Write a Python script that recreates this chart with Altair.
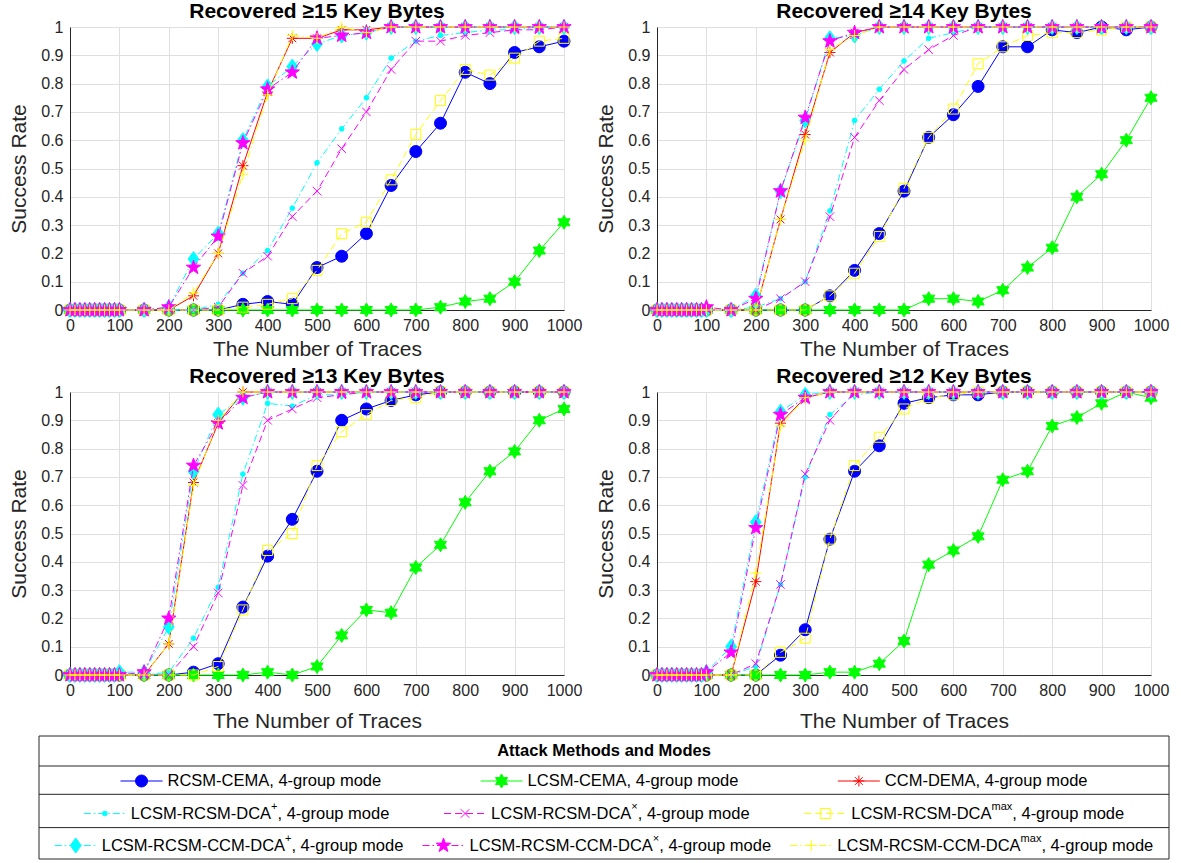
import math
import altair as alt
import pandas as pd

FONT = "Liberation Sans"

# ---------------- data ----------------
X_TRACES = [0, 10, 20, 30, 40, 50, 60, 70, 80, 90, 100, 150, 200, 250, 300, 350, 400, 450, 500,
            550, 600, 650, 700, 750, 800, 850, 900, 950, 1000]
X_TICKS = [0, 100, 200, 300, 400, 500, 600, 700, 800, 900, 1000]
Y_TICKS = [0, 0.1, 0.2, 0.3, 0.4, 0.5, 0.6, 0.7, 0.8, 0.9, 1]

SERIES_BASE = ["RCSM-CEMA", "LCSM-CEMA", "CCM-DEMA",
               "LCSM-RCSM-DCA", "LCSM-RCSM-DCA", "LCSM-RCSM-DCA",
               "LCSM-RCSM-CCM-DCA", "LCSM-RCSM-CCM-DCA", "LCSM-RCSM-CCM-DCA"]
SERIES_SUP = ["", "", "", "+", "×", "max", "+", "×", "max"]
SERIES_TAIL = ", 4-group mode"
PANEL_TITLES = ["Recovered ≥15 Key Bytes", "Recovered ≥14 Key Bytes",
                "Recovered ≥13 Key Bytes", "Recovered ≥12 Key Bytes"]
LEGEND_TITLE = "Attack Methods and Modes"
X_TITLE = "The Number of Traces"
Y_TITLE = "Success Rate"

# >=15 key bytes
s15_rcsm_cema = [0, 0, 0, 0, 0, 0, 0, 0, 0, 0, 0, 0, 0, 0, 0, 0.02, 0.03, 0.02, 0.15, 0.19, 0.27, 0.44, 0.56, 0.66, 0.84, 0.80, 0.91, 0.93, 0.95]
s15_lcsm_cema = [0, 0, 0, 0, 0, 0, 0, 0, 0, 0, 0, 0, 0, 0, 0, 0, 0, 0, 0, 0, 0, 0, 0, 0.01, 0.03, 0.04, 0.10, 0.21, 0.31]
s15_ccm_dema = [0, 0, 0, 0, 0, 0, 0, 0, 0, 0, 0, 0, 0, 0.05, 0.20, 0.51, 0.77, 0.96, 0.96, 0.99, 0.99, 1, 1, 1, 1, 1, 1, 1, 1]
s15_dca_plus = [0, 0, 0, 0, 0, 0, 0, 0, 0, 0, 0, 0, 0, 0, 0.02, 0.13, 0.21, 0.36, 0.52, 0.64, 0.75, 0.89, 0.95, 0.97, 0.98, 0.99, 0.99, 1, 1]
s15_dca_times = [0, 0, 0, 0, 0, 0, 0, 0, 0, 0, 0, 0, 0, 0, 0.01, 0.13, 0.19, 0.33, 0.42, 0.57, 0.70, 0.85, 0.95, 0.95, 0.97, 0.98, 0.99, 0.99, 1]
s15_dca_max = [0, 0, 0, 0, 0, 0, 0, 0, 0, 0, 0, 0, 0, 0, 0, 0.01, 0.02, 0.04, 0.14, 0.27, 0.31, 0.46, 0.62, 0.74, 0.85, 0.83, 0.89, 0.95, 0.96]
s15_ccm_plus = [0, 0, 0, 0, 0, 0, 0, 0, 0, 0, 0, 0, 0.01, 0.18, 0.27, 0.60, 0.79, 0.86, 0.94, 0.97, 0.98, 1, 1, 1, 1, 1, 1, 1, 1]
s15_ccm_times = [0, 0, 0, 0, 0, 0, 0, 0, 0, 0, 0, 0, 0.01, 0.15, 0.26, 0.59, 0.78, 0.84, 0.96, 0.97, 0.98, 1, 1, 1, 1, 1, 1, 1, 1]
s15_ccm_max = [0, 0, 0, 0, 0, 0, 0, 0, 0, 0, 0, 0, 0, 0.06, 0.20, 0.48, 0.76, 0.97, 0.96, 1, 0.98, 1, 1, 1, 1, 1, 1, 1, 1]

# >=14 key bytes
s14_rcsm_cema = [0, 0, 0, 0, 0, 0, 0, 0, 0, 0, 0, 0, 0, 0, 0, 0.05, 0.14, 0.27, 0.42, 0.61, 0.69, 0.79, 0.93, 0.93, 0.99, 0.98, 1, 0.99, 1]
s14_lcsm_cema = [0, 0, 0, 0, 0, 0, 0, 0, 0, 0, 0, 0, 0, 0, 0, 0, 0, 0, 0, 0.04, 0.04, 0.03, 0.07, 0.15, 0.22, 0.40, 0.48, 0.60, 0.75]
s14_ccm_dema = [0, 0, 0, 0, 0, 0, 0, 0, 0, 0, 0, 0, 0, 0.32, 0.62, 0.91, 0.98, 1, 1, 1, 1, 1, 1, 1, 1, 1, 1, 1, 1]
s14_dca_plus = [0, 0, 0, 0, 0, 0, 0, 0, 0, 0, 0, 0, 0.01, 0.04, 0.10, 0.35, 0.67, 0.78, 0.88, 0.96, 0.98, 1, 1, 1, 1, 1, 1, 1, 1]
s14_dca_times = [0, 0, 0, 0, 0, 0, 0, 0, 0, 0, 0, 0, 0, 0.04, 0.10, 0.33, 0.61, 0.74, 0.85, 0.92, 0.97, 1, 1, 1, 1, 1, 1, 1, 1]
s14_dca_max = [0, 0, 0, 0, 0, 0, 0, 0, 0, 0, 0, 0, 0, 0, 0, 0.05, 0.13, 0.26, 0.43, 0.61, 0.71, 0.87, 0.93, 0.97, 0.98, 0.98, 0.99, 1, 1]
s14_ccm_plus = [0, 0, 0, 0, 0, 0, 0, 0, 0, 0, 0, 0, 0.05, 0.42, 0.67, 0.96, 0.97, 1, 1, 1, 1, 1, 1, 1, 1, 1, 1, 1, 1]
s14_ccm_times = [0, 0, 0, 0, 0, 0, 0, 0, 0, 0, 0.01, 0, 0.04, 0.42, 0.68, 0.95, 0.98, 1, 1, 1, 1, 1, 1, 1, 1, 1, 1, 1, 1]
s14_ccm_max = [0, 0, 0, 0, 0, 0, 0, 0, 0, 0, 0, 0, 0, 0.32, 0.60, 0.92, 0.97, 1, 1, 1, 1, 1, 1, 1, 1, 1, 1, 1, 1]

# >=13 key bytes
s13_rcsm_cema = [0, 0, 0, 0, 0, 0, 0, 0, 0, 0, 0, 0, 0, 0.01, 0.04, 0.24, 0.42, 0.55, 0.72, 0.90, 0.94, 0.97, 0.99, 1, 1, 1, 1, 1, 1]
s13_lcsm_cema = [0, 0, 0, 0, 0, 0, 0, 0, 0, 0, 0, 0, 0, 0, 0, 0, 0.01, 0, 0.03, 0.14, 0.23, 0.22, 0.38, 0.46, 0.61, 0.72, 0.79, 0.90, 0.94]
s13_ccm_dema = [0, 0, 0, 0, 0, 0, 0, 0, 0, 0, 0, 0, 0.11, 0.68, 0.89, 1, 1, 1, 1, 1, 1, 1, 1, 1, 1, 1, 1, 1, 1]
s13_dca_plus = [0, 0, 0, 0, 0, 0, 0, 0, 0, 0, 0, 0, 0.01, 0.13, 0.31, 0.71, 0.96, 0.95, 0.99, 0.99, 1, 1, 1, 1, 1, 1, 1, 1, 1]
s13_dca_times = [0, 0, 0, 0, 0, 0, 0, 0, 0, 0, 0, 0, 0, 0.10, 0.29, 0.67, 0.90, 0.94, 0.98, 0.99, 1, 1, 1, 1, 1, 1, 1, 1, 1]
s13_dca_max = [0, 0, 0, 0, 0, 0, 0, 0, 0, 0, 0, 0, 0, 0, 0.03, 0.23, 0.44, 0.50, 0.74, 0.86, 0.92, 0.97, 0.98, 1, 1, 1, 1, 1, 1]
s13_ccm_plus = [0, 0, 0, 0, 0, 0, 0, 0, 0, 0, 0.01, 0.01, 0.17, 0.72, 0.92, 0.98, 1, 1, 1, 1, 1, 1, 1, 1, 1, 1, 1, 1, 1]
s13_ccm_times = [0, 0, 0, 0, 0, 0, 0, 0, 0, 0, 0, 0.01, 0.20, 0.74, 0.89, 0.98, 1, 1, 1, 1, 1, 1, 1, 1, 1, 1, 1, 1, 1]
s13_ccm_max = [0, 0, 0, 0, 0, 0, 0, 0, 0, 0, 0, 0, 0.11, 0.67, 0.90, 1, 1, 1, 1, 1, 1, 1, 1, 1, 1, 1, 1, 1, 1]

# >=12 key bytes
s12_rcsm_cema = [0, 0, 0, 0, 0, 0, 0, 0, 0, 0, 0, 0, 0, 0.07, 0.16, 0.48, 0.72, 0.81, 0.96, 0.98, 0.99, 0.99, 1, 1, 1, 1, 1, 1, 1]
s12_lcsm_cema = [0, 0, 0, 0, 0, 0, 0, 0, 0, 0, 0, 0, 0, 0, 0, 0.01, 0.01, 0.04, 0.12, 0.39, 0.44, 0.49, 0.69, 0.72, 0.88, 0.91, 0.96, 1, 0.98]
s12_ccm_dema = [0, 0, 0, 0, 0, 0, 0, 0, 0, 0, 0, 0, 0.33, 0.89, 0.98, 1, 1, 1, 1, 1, 1, 1, 1, 1, 1, 1, 1, 1, 1]
s12_dca_plus = [0, 0, 0, 0, 0, 0, 0, 0, 0, 0, 0, 0, 0.03, 0.32, 0.70, 0.92, 0.99, 1, 1, 1, 1, 1, 1, 1, 1, 1, 1, 1, 1]
s12_dca_times = [0, 0, 0, 0, 0, 0, 0, 0, 0, 0, 0, 0, 0.04, 0.32, 0.71, 0.90, 1, 1, 1, 1, 1, 1, 1, 1, 1, 1, 1, 1, 1]
s12_dca_max = [0, 0, 0, 0, 0, 0, 0, 0, 0, 0, 0, 0, 0, 0.08, 0.13, 0.48, 0.74, 0.84, 0.94, 0.98, 0.99, 1, 1, 1, 1, 1, 1, 1, 1]
s12_ccm_plus = [0, 0, 0, 0, 0, 0, 0, 0, 0, 0, 0.01, 0.10, 0.54, 0.93, 0.99, 1, 1, 1, 1, 1, 1, 1, 1, 1, 1, 1, 1, 1, 1]
s12_ccm_times = [0, 0, 0, 0, 0, 0, 0, 0, 0, 0, 0.01, 0.08, 0.52, 0.92, 0.98, 1, 1, 1, 1, 1, 1, 1, 1, 1, 1, 1, 1, 1, 1]
s12_ccm_max = [0, 0, 0, 0, 0, 0, 0, 0, 0, 0, 0, 0, 0.36, 0.88, 0.98, 1, 1, 1, 1, 1, 1, 1, 1, 1, 1, 1, 1, 1, 1]

PANELS = [
    [s15_rcsm_cema, s15_lcsm_cema, s15_ccm_dema, s15_dca_plus, s15_dca_times, s15_dca_max, s15_ccm_plus, s15_ccm_times, s15_ccm_max],
    [s14_rcsm_cema, s14_lcsm_cema, s14_ccm_dema, s14_dca_plus, s14_dca_times, s14_dca_max, s14_ccm_plus, s14_ccm_times, s14_ccm_max],
    [s13_rcsm_cema, s13_lcsm_cema, s13_ccm_dema, s13_dca_plus, s13_dca_times, s13_dca_max, s13_ccm_plus, s13_ccm_times, s13_ccm_max],
    [s12_rcsm_cema, s12_lcsm_cema, s12_ccm_dema, s12_dca_plus, s12_dca_times, s12_dca_max, s12_ccm_plus, s12_ccm_times, s12_ccm_max],
]


# ---------------- styles ----------------
def star_path(n, r_in):
    pts = []
    for k in range(2 * n):
        a = math.radians(-90 + 180.0 / n * k)
        r = 1.0 if k % 2 == 0 else r_in
        pts.append(f"{r * math.cos(a):.3f},{r * math.sin(a):.3f}")
    return "M" + "L".join(pts) + "Z"


HEXAGRAM = star_path(6, 0.577)
PENTAGRAM = star_path(5, 0.40)
ASTERISK = "M0,-1L0,1M-1,0L1,0M-0.71,-0.71L0.71,0.71M-0.71,0.71L0.71,-0.71"
XMARK = "M-1,-1L1,1M-1,1L1,-1"
PLUS = "M-1,0L1,0M0,-1L0,1"
DIAMOND = "M0,-1L0.72,0L0,1L-0.72,0Z"
DASHED = [7, 4]
DASHDOT = [7, 3, 1.5, 3]

STYLES = [
    dict(color="#0000ff", dash=None, shape="circle", size=144, fill=True),
    dict(color="#00ff00", dash=None, shape=HEXAGRAM, size=196, fill=True),
    dict(color="#ff0000", dash=None, shape=ASTERISK, size=121, fill=False),
    dict(color="#00ffff", dash=DASHDOT, shape="circle", size=22, fill=True),
    dict(color="#ff00ff", dash=DASHED, shape=XMARK, size=72, fill=False),
    dict(color="#ffff00", dash=DASHED, shape="square", size=100, fill=False),
    dict(color="#00ffff", dash=DASHDOT, shape=DIAMOND, size=225, fill=True),
    dict(color="#ff00ff", dash=DASHDOT, shape=PENTAGRAM, size=225, fill=True),
    dict(color="#ffff00", dash=DASHDOT, shape=PLUS, size=121, fill=False),
]


def line_kw(st):
    kw = dict(color=st["color"], strokeWidth=1)
    if st["dash"]:
        kw["strokeDash"] = st["dash"]
    return kw


def point_kw(st):
    return dict(shape=st["shape"], size=st["size"], opacity=1, strokeWidth=1,
                stroke=st["color"], filled=st["fill"],
                fill=st["color"] if st["fill"] else "transparent")


PW, PH = 494, 283
COL_GAP, ROW_GAP = 93, 82

# ---------------- legend ----------------
ARIAL = {'A': 667, 'C': 722, 'D': 722, 'E': 667, 'L': 556, 'M': 833, 'R': 722, 'S': 667,
         '-': 333, ',': 278, ' ': 278, '4': 556, 'g': 556, 'r': 333, 'o': 556, 'u': 556,
         'p': 556, 'm': 833, 'd': 556, 'e': 556, '+': 584, '×': 584, 'a': 556, 'x': 500}


def text_w(s, fs):
    return sum(ARIAL.get(c, 556) for c in s) / 1000.0 * fs


LEG_W, LEG_H = 1130, 123
LEG_X0 = -31           # legend box left edge relative to the bottom-left plot area
LEG_Y0 = PH + 61       # legend box top relative to the bottom-left plot area
ROW_EDGES = [0, 30, 58.3, 91.6, 123]
ROW_TEXT_Y = [45, 77.5, 109.5]
FS, FS_SUP = 16.5, 11
SAMPLE_W, TEXT_GAP = 42, 5
MARGIN_RATIO = 0.82

lx = alt.Scale(domain=[0, LEG_W], range=[LEG_X0, LEG_X0 + LEG_W])
ly = alt.Scale(domain=[0, LEG_H], range=[LEG_Y0, LEG_Y0 + LEG_H])

base_rows, sup_rows, tail_rows = [], [], []
entry_pos = []
for r in range(3):
    idx = [3 * r, 3 * r + 1, 3 * r + 2]
    widths = [SAMPLE_W + TEXT_GAP + text_w(SERIES_BASE[k], FS) + text_w(SERIES_SUP[k], FS_SUP)
              + text_w(SERIES_TAIL, FS) for k in idx]
    free = LEG_W - sum(widths)
    g = free / (2 * MARGIN_RATIO + 2)
    x = MARGIN_RATIO * g
    for k, w in zip(idx, widths):
        y = ROW_TEXT_Y[r]
        entry_pos.append((k, x, y))
        tx = x + SAMPLE_W + TEXT_GAP
        base_rows.append(dict(x=tx, y=y, t=SERIES_BASE[k]))
        tx += text_w(SERIES_BASE[k], FS)
        if SERIES_SUP[k]:
            sup_rows.append(dict(x=tx, y=y - 6.5, t=SERIES_SUP[k]))
            tx += text_w(SERIES_SUP[k], FS_SUP)
        tail_rows.append(dict(x=tx, y=y, t=SERIES_TAIL))
        x += w + g

leg_layers = []
box = alt.Chart(pd.DataFrame([dict(x0=0, x1=LEG_W, y0=ROW_EDGES[0], y1=ROW_EDGES[-1])])).mark_rect(
    fill="white", stroke="#262626", strokeWidth=1).encode(
    x=alt.X("x0:Q", scale=lx, axis=None), x2="x1:Q",
    y=alt.Y("y0:Q", scale=ly, axis=None), y2="y1:Q")
leg_layers.append(box)
seps = alt.Chart(pd.DataFrame([dict(x0=0, x1=LEG_W, y=e) for e in ROW_EDGES[1:-1]])).mark_rule(
    color="#262626", strokeWidth=1).encode(
    x=alt.X("x0:Q", scale=lx, axis=None), x2="x1:Q", y=alt.Y("y:Q", scale=ly, axis=None))
leg_layers.append(seps)
head = alt.Chart(pd.DataFrame([dict(x=LEG_W / 2, y=(ROW_EDGES[0] + ROW_EDGES[1]) / 2, t=LEGEND_TITLE)])).mark_text(
    font=FONT, fontSize=FS, fontWeight="bold", color="black", align="center", baseline="middle").encode(
    x=alt.X("x:Q", scale=lx, axis=None), y=alt.Y("y:Q", scale=ly, axis=None), text="t:N")
leg_layers.append(head)

for k, x, y in entry_pos:
    st = STYLES[k]
    d = pd.DataFrame([dict(x0=x, x1=x + SAMPLE_W, xm=x + SAMPLE_W / 2, y=y)])
    leg_layers.append(alt.Chart(d).mark_rule(**line_kw(st)).encode(
        x=alt.X("x0:Q", scale=lx, axis=None), x2="x1:Q", y=alt.Y("y:Q", scale=ly, axis=None)))
    leg_layers.append(alt.Chart(d).mark_point(**point_kw(st)).encode(
        x=alt.X("xm:Q", scale=lx, axis=None), y=alt.Y("y:Q", scale=ly, axis=None)))

for rows, fs in [(base_rows, FS), (sup_rows, FS_SUP), (tail_rows, FS)]:
    leg_layers.append(alt.Chart(pd.DataFrame(rows)).mark_text(
        font=FONT, fontSize=fs, color="black", align="left", baseline="middle").encode(
        x=alt.X("x:Q", scale=lx, axis=None), y=alt.Y("y:Q", scale=ly, axis=None), text="t:N"))

legend_layer = alt.layer(*leg_layers)


# ---------------- panels ----------------
def make_panel(i, x_title_pad, extra=None):
    x_enc = alt.X("x:Q", scale=alt.Scale(domain=[0, 1000], nice=False, zero=False),
                  axis=alt.Axis(values=X_TICKS, title=X_TITLE, titlePadding=x_title_pad,
                                labelFlush=False, format="d", labelOverlap=False))
    y_enc = alt.Y("y:Q", scale=alt.Scale(domain=[0, 1], nice=False),
                  axis=alt.Axis(values=Y_TICKS, title=Y_TITLE, format=".1~f",
                                labelOverlap=False, titlePadding=11))
    layers = []
    for st, vals in zip(STYLES, PANELS[i]):
        df = pd.DataFrame({"x": X_TRACES, "y": vals})
        base = alt.Chart(df).encode(x=x_enc, y=y_enc)
        layers.append(base.mark_line(**line_kw(st)))
        layers.append(base.mark_point(**point_kw(st)))
    plot = alt.layer(*layers)
    if extra is not None:
        plot = alt.layer(plot, extra).resolve_scale(x="independent", y="independent")
    return plot.properties(
        width=PW, height=PH,
        title=alt.TitleParams(PANEL_TITLES[i], fontSize=21, font=FONT, fontWeight="bold",
                              color="black", offset=-4))


chart = alt.concat(
    make_panel(0, 5.5), make_panel(1, 5.5),
    make_panel(2, 12.5, legend_layer), make_panel(3, 12.5),
    columns=2, spacing={"column": COL_GAP, "row": ROW_GAP}, bounds="flush",
).properties(
    padding={"left": 8, "top": 0, "right": 0, "bottom": 0},
    background="white",
).configure_view(stroke=None).configure_axis(
    domainColor="#262626", domainWidth=1, gridColor="#dfdfdf", gridWidth=1, ticks=False,
    labelFont=FONT, labelFontSize=16, labelColor="#262626", labelPadding=7,
    titleFont=FONT, titleFontSize=21, titleFontWeight="normal", titleColor="#262626",
).configure_title(font=FONT)

chart.save("out.html", embed_options={"renderer": "svg", "actions": False})
